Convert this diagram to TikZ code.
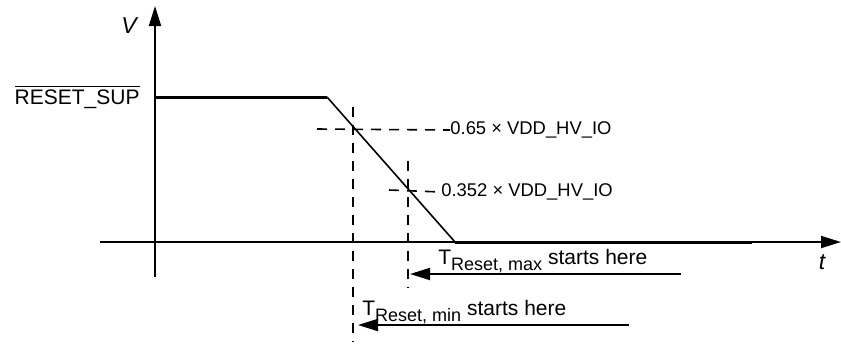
\documentclass[tikz,border=0pt]{standalone}
\usepackage{fontspec}
\setmainfont{Liberation Sans}
\usetikzlibrary{arrows.meta,positioning,calc}

\tikzset{
  axis/.style={line width=1pt,-{Triangle[length=10pt,width=6pt]}},
  signal/.style={line width=1.5pt},
  slope/.style={line width=0.8pt},
  guide/.style={line width=0.8pt,dash pattern=on 5pt off 4pt},
  startarrow/.style={line width=1pt,-{Triangle[length=10pt,width=6pt]}},
  lbl/.style={inner sep=0pt,font=\fontsize{10.5}{12}\selectfont},
  lvl/.style={inner sep=0pt,font=\fontsize{9.2}{11}\selectfont},
}
\newcommand{\subtxt}[1]{\raisebox{-0.55ex}{\fontsize{9}{9}\selectfont #1}}

\begin{document}
\begin{tikzpicture}[x=0.5pt,y=-0.5pt]
    \useasboundingbox (0,0) rectangle (841,345);

    % axes
    \coordinate (vbot) at (155,277);
    \coordinate (vtop) at (155,6);
    \coordinate (tleft) at (100,242);
    \coordinate (tright) at (841,242);
    \draw[axis] (vbot) -- (vtop);
    \draw[axis] (tleft) -- (tright);
    \node[lbl] (V) at (129,26) {\fontsize{11.5}{12}\selectfont\itshape V};
    \node[lbl] (t) at (822,262) {\fontsize{11.5}{12}\selectfont\itshape t};

    % signal
    \coordinate (high0) at (155,97);
    \coordinate (high1) at (327,97);
    \coordinate (low0) at (455,242);
    \coordinate (low1) at (752,242);
    \draw[signal] (high0) -- (high1);
    \draw[slope] (high1) -- (low0);
    \draw[signal] (low0) -- (low1);
    \node[lbl, anchor=east] (sup) at (140,97) {$\overline{\mbox{RESET\_SUP}}$};

    % thresholds
    \node[lvl, anchor=west] (th65) at (450,130) {0.65 × VDD\_HV\_IO};
    \node[lvl, anchor=west] (th352) at (441,192) {0.352 × VDD\_HV\_IO};
    \coordinate (h65) at (317,129);
    \coordinate (h352) at (389,190);
    \draw[guide] (h65) -- (th65.west);
    \draw[guide] (h352) -- (th352.west);

    \coordinate (g1top) at (353,107);
    \coordinate (g1bot) at (353,342);
    \coordinate (g2top) at (408,161);
    \coordinate (g2bot) at (408,288);
    \draw[guide] (g1top) -- (g1bot);
    \draw[guide] (g2top) -- (g2bot);

    % start markers
    \coordinate (maxR) at (681,274);
    \coordinate (maxL) at (410,274);
    \coordinate (minR) at (629,325);
    \coordinate (minL) at (358,325);
    \draw[startarrow] (maxR) -- (maxL);
    \draw[startarrow] (minR) -- (minL);
    \node[lbl, anchor=base west] (tmax) at (438,264) {T\subtxt{Reset, max} starts here};
    \node[lbl, anchor=base west] (tmin) at (362,315) {T\subtxt{Reset, min} starts here};

\end{tikzpicture}
\end{document}
